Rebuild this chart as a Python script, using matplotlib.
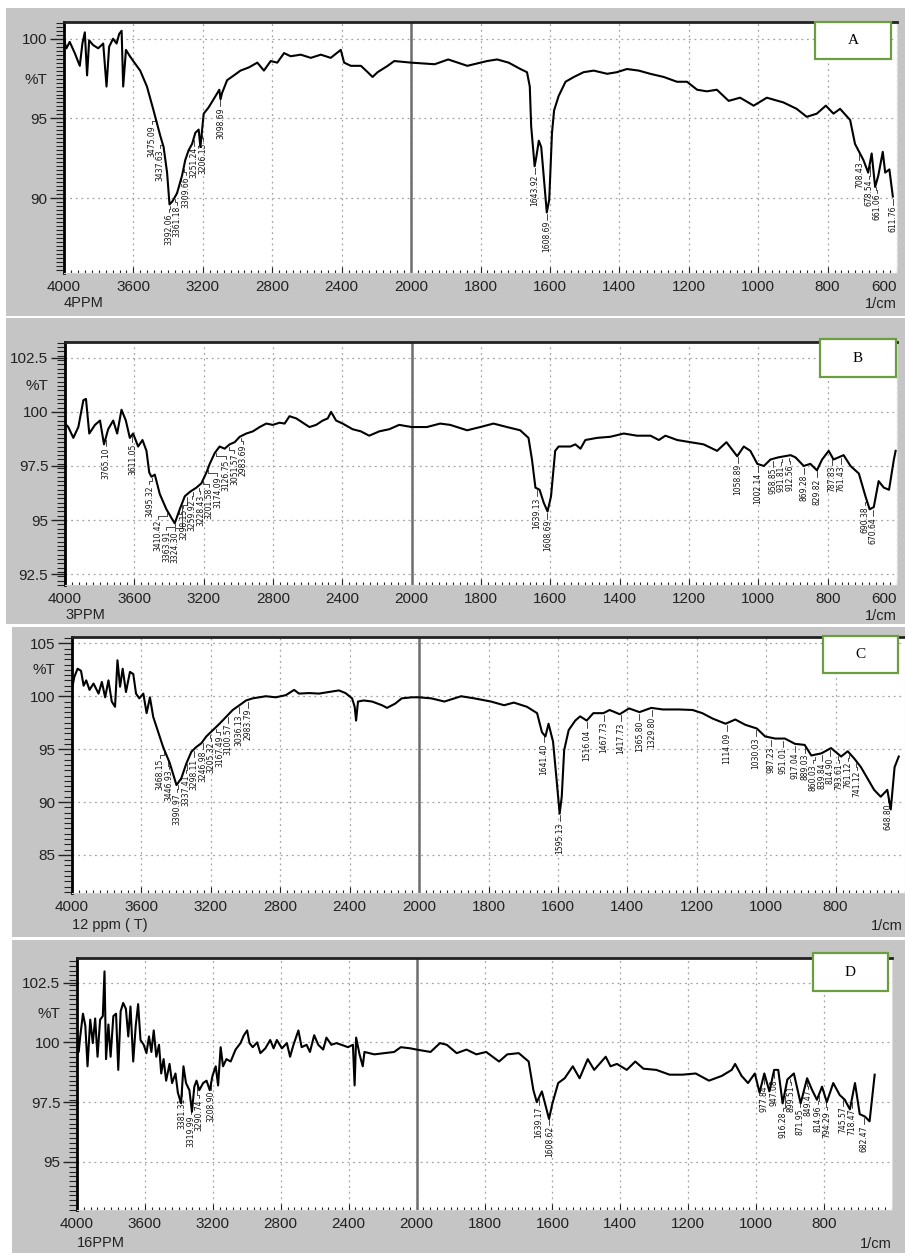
import matplotlib.pyplot as plt
import numpy as np
from matplotlib.patches import Rectangle

W, H = 905, 1253

# ---- spectrum A (4PPM)
a_wn = [4000, 3986, 3967, 3938, 3909, 3894, 3880, 3867, 3855, 3832, 3803, 3774, 3755, 3740, 3717, 3697,
        3682, 3668, 3659, 3643, 3620, 3601, 3561, 3522, 3484, 3445, 3426, 3406, 3392, 3375, 3349, 3320,
        3301, 3282, 3262, 3243, 3224, 3214, 3195, 3166, 3127, 3105, 3098, 3089, 3060, 3021, 2983, 2935,
        2886, 2848, 2809, 2771, 2732, 2694, 2636, 2578, 2520, 2463, 2405, 2386, 2347, 2289, 2250, 2222,
        2193, 2135, 2097, 2000, 1932, 1893, 1838, 1781, 1752, 1719, 1685, 1666, 1658, 1654, 1644, 1639,
        1632, 1625, 1609, 1602, 1594, 1588, 1575, 1555, 1531, 1503, 1474, 1435, 1407, 1378, 1344, 1311,
        1272, 1234, 1205, 1176, 1148, 1119, 1085, 1052, 1013, 975, 927, 889, 860, 831, 805, 783, 764,
        735, 721, 697, 683, 673, 663, 654, 641, 634, 622, 612]
a_t = [99.9, 99.4, 99.8, 99.1, 98.3, 99.7, 100.4, 97.7, 99.9, 99.6, 99.4, 99.7, 97.0, 99.5, 100.0, 99.7,
       100.3, 100.5, 97.0, 99.3, 98.9, 98.6, 98.0, 97.0, 95.5, 93.9, 93.2, 91.6, 89.6, 89.8, 90.3, 91.4,
       92.4, 93.0, 93.4, 94.1, 94.3, 93.2, 95.3, 95.7, 96.4, 96.8, 96.2, 96.6, 97.4, 97.7, 98.0, 98.2,
       98.5, 98.0, 98.6, 98.5, 99.1, 98.9, 99.0, 98.8, 99.0, 98.8, 99.3, 98.5, 98.3, 98.3, 97.9, 97.6,
       97.9, 98.3, 98.6, 98.5, 98.4, 98.7, 98.3, 98.6, 98.7, 98.5, 98.1, 97.9, 97.0, 94.5, 92.0, 92.6,
       93.6, 93.2, 89.1, 89.9, 94.1, 95.5, 96.4, 97.3, 97.6, 97.9, 98.0, 97.8, 97.9, 98.1, 98.0, 97.8,
       97.6, 97.3, 97.3, 96.8, 96.7, 96.8, 96.1, 96.3, 95.8, 96.3, 96.0, 95.6, 95.1, 95.3, 95.8, 95.3, 95.6,
       94.9, 93.4, 92.4, 91.6, 92.8, 90.7, 91.4, 92.9, 91.6, 91.8, 90.1]
a_peaks = [3475.09, 3437.63, 3392.06, 3361.18, 3309.66, 3251.24, 3206.13, 3098.69, 1643.92, 1608.69,
           708.43, 678.54, 661.06, 611.76]

# ---- spectrum B (3PPM)
b_wn = [4000, 3981, 3952, 3923, 3894, 3879, 3860, 3827, 3798, 3775, 3751, 3722, 3699, 3674, 3649, 3626,
        3607, 3578, 3553, 3530, 3514, 3501, 3482, 3453, 3415, 3386, 3367, 3338, 3309, 3280, 3242, 3213,
        3184, 3165, 3136, 3108, 3079, 3050, 3021, 2992, 2954, 2916, 2877, 2839, 2801, 2762, 2733, 2705,
        2666, 2628, 2590, 2551, 2513, 2484, 2465, 2436, 2398, 2341, 2293, 2245, 2187, 2129, 2072, 2000,
        1956, 1918, 1889, 1840, 1802, 1764, 1725, 1687, 1663, 1653, 1643, 1631, 1619, 1608, 1598, 1586,
        1576, 1542, 1528, 1513, 1499, 1465, 1427, 1388, 1350, 1311, 1287, 1268, 1234, 1196, 1158, 1119,
        1092, 1061, 1042, 1023, 1003, 984, 965, 942, 907, 893, 869, 850, 831, 816, 797, 783, 754, 734,
        710, 691, 679, 667, 653, 638, 623, 609, 604]
b_t = [99.46, 99.3, 98.8, 99.3, 100.54, 100.6, 99.0, 99.4, 99.6, 98.5, 99.2, 99.6, 99.0, 100.1, 99.6, 98.8,
       99.0, 98.4, 98.7, 98.2, 97.2, 97.0, 97.1, 96.2, 95.5, 95.1, 94.85, 95.5, 96.1, 96.3, 96.5, 96.7,
       97.2, 97.6, 98.1, 98.4, 98.3, 98.5, 98.6, 98.85, 99.0, 99.1, 99.3, 99.46, 99.4, 99.5, 99.46, 99.8,
       99.7, 99.5, 99.3, 99.4, 99.6, 99.7, 100.0, 99.6, 99.46, 99.2, 99.1, 98.9, 99.1, 99.2, 99.4, 99.3,
       99.3, 99.46, 99.4, 99.15, 99.3, 99.46, 99.3, 99.15, 98.8, 97.8, 96.5, 96.4, 95.8, 95.4, 96.1, 98.2,
       98.4, 98.4, 98.5, 98.3, 98.7, 98.8, 98.85, 99.0, 98.9, 98.9, 98.7, 98.9, 98.7, 98.6, 98.5, 98.2,
       98.6, 97.95, 98.4, 98.2, 97.6, 97.5, 97.8, 97.9, 98.0, 97.9, 97.5, 97.6, 97.3, 97.8, 98.2, 97.8, 98.0, 97.5,
       97.15, 96.1, 95.5, 95.6, 96.8, 96.5, 96.4, 97.8, 98.2]
b_peaks = [3765.10, 3611.05, 3495.32, 3410.42, 3363.91, 3324.30, 3298.15, 3259.92, 3228.43, 3201.58,
           3174.09, 3126.75, 3051.57, 2983.69, 1639.13, 1608.69, 1058.89, 1002.14, 958.85, 931.81,
           912.56, 869.28, 829.82, 787.83, 761.43, 690.38, 670.64]

# ---- spectrum C (12 ppm)
c_wn = [4000, 3987, 3968, 3948, 3933, 3918, 3899, 3876, 3847, 3828, 3809, 3790, 3771, 3752, 3738, 3723,
        3708, 3689, 3666, 3647, 3631, 3612, 3589, 3570, 3551, 3532, 3513, 3475, 3437, 3398, 3389, 3370,
        3341, 3312, 3284, 3255, 3226, 3188, 3150, 3112, 3074, 3035, 2997, 2959, 2921, 2883, 2826, 2768,
        2720, 2692, 2634, 2577, 2520, 2462, 2424, 2386, 2371, 2363, 2352, 2319, 2271, 2214, 2185, 2138,
        2100, 2042, 2000, 1965, 1927, 1879, 1841, 1793, 1755, 1727, 1689, 1660, 1646, 1636, 1627, 1614,
        1603, 1595, 1589, 1582, 1569, 1550, 1536, 1517, 1498, 1469, 1451, 1422, 1395, 1365, 1331, 1298,
        1251, 1212, 1184, 1155, 1117, 1089, 1060, 1027, 1003, 974, 946, 917, 889, 870, 841, 813, 784, 765,
        746, 727, 689, 670, 651, 641, 630, 618]
c_t = [100.7, 101.8, 102.6, 102.4, 101.0, 101.5, 100.6, 101.2, 100.25, 101.35, 99.9, 101.5, 99.5, 99.0, 103.4, 100.9,
       102.6, 100.4, 102.3, 102.1, 100.25, 99.8, 100.25, 98.4, 99.9, 98.05, 97.1, 95.2, 93.7, 91.6, 91.8, 92.25,
       93.65, 94.75, 95.2, 95.55, 96.2, 96.8, 97.4, 98.05, 98.7, 99.15, 99.6, 99.8, 99.9, 100.0, 99.9, 100.1,
       100.6, 100.25, 100.3, 100.25, 100.4, 100.55, 100.3, 99.8, 99.0, 97.7, 99.5, 99.6, 99.5, 99.15, 98.9, 99.3,
       99.8, 99.9, 99.9, 99.8, 99.5, 100.0, 99.8, 99.5, 99.15, 99.4, 99.0, 98.4, 96.6, 96.2, 97.4, 95.7,
       91.8, 88.9, 90.5, 94.9, 96.8, 97.7, 98.1, 97.7, 98.4, 98.4, 98.7, 98.3, 98.85, 98.5, 98.9, 98.75,
       98.75, 98.7, 98.4, 97.9, 97.4, 97.8, 97.3, 96.95, 96.2, 96.0, 96.0, 95.5, 95.4, 94.4, 94.6, 95.1, 94.3, 94.8,
       94.1, 93.3, 91.15, 90.5, 91.15, 89.3, 93.3, 94.3]
c_peaks = [3468.15, 3446.93, 3390.97, 3337.41, 3298.11, 3246.98, 3205.32, 3167.49, 3100.57, 3036.13,
           2983.79, 1641.40, 1595.13, 1516.04, 1467.73, 1417.73, 1365.80, 1329.80, 1114.09, 1030.03,
           987.23, 951.01, 917.04, 889.03, 860.03, 839.84, 814.90, 793.61, 761.12, 741.12, 648.80]

# ---- spectrum D (16PPM)
d_wn = [4000, 3990, 3981, 3965, 3951, 3938, 3922, 3907, 3893, 3879, 3864, 3848, 3838, 3829, 3815, 3802,
        3786, 3770, 3757, 3743, 3728, 3712, 3698, 3685, 3669, 3654, 3640, 3626, 3607, 3591, 3576, 3562,
        3548, 3533, 3517, 3504, 3490, 3475, 3455, 3440, 3420, 3406, 3387, 3373, 3358, 3338, 3323, 3309,
        3296, 3280, 3257, 3237, 3218, 3202, 3183, 3169, 3154, 3140, 3120, 3095, 3066, 3037, 3017, 2998,
        2984, 2965, 2939, 2920, 2891, 2862, 2842, 2823, 2793, 2764, 2745, 2725, 2696, 2677, 2648, 2628,
        2603, 2579, 2550, 2531, 2502, 2472, 2443, 2404, 2375, 2365, 2356, 2336, 2317, 2307, 2249, 2190,
        2132, 2093, 2035, 2000, 1959, 1931, 1911, 1882, 1853, 1824, 1795, 1757, 1733, 1699, 1670, 1656,
        1646, 1631, 1622, 1610, 1600, 1583, 1564, 1540, 1520, 1496, 1477, 1443, 1429, 1410, 1381, 1356,
        1332, 1294, 1255, 1217, 1178, 1139, 1101, 1072, 1062, 1043, 1024, 1004, 990, 976, 961, 947, 935,
        922, 908, 889, 869, 850, 835, 821, 806, 792, 773, 754, 739, 724, 709, 695, 680, 666, 656, 651]
d_t = [100.5, 99.6, 100.25, 101.2, 100.7, 99.0, 100.95, 99.97, 101.0, 99.4, 100.95, 101.1, 102.97, 99.3, 100.75, 99.4,
       101.1, 101.2, 98.85, 101.3, 101.65, 101.4, 100.25, 101.5, 99.2, 100.7, 101.6, 100.1, 99.9, 99.55, 100.25, 99.6,
       100.5, 99.4, 99.9, 98.7, 99.3, 98.4, 99.1, 98.3, 98.7, 97.9, 97.45, 99.0, 98.3, 98.0, 97.1, 98.15,
       98.4, 98.0, 98.3, 98.4, 98.0, 98.6, 99.0, 98.2, 99.8, 99.0, 99.3, 99.2, 99.7, 99.97, 100.3, 100.5,
       99.97, 99.8, 100.0, 99.55, 99.75, 100.1, 99.75, 100.1, 99.75, 99.97, 99.4, 99.9, 100.5, 99.8, 99.9, 99.6,
       100.3, 99.9, 99.7, 100.2, 99.9, 99.97, 99.9, 99.8, 99.9, 98.2, 100.2, 99.5, 99.0, 99.6, 99.5, 99.55,
       99.6, 99.8, 99.75, 99.7, 99.6, 99.97, 99.9, 99.55, 99.7, 99.5, 99.6, 99.2, 99.5, 99.55, 99.2, 98.0,
       97.5, 97.95, 97.45, 96.8, 97.45, 98.3, 98.5, 99.0, 98.5, 99.3, 98.85, 99.4, 99.0, 99.1, 98.85, 99.2,
       98.9, 98.85, 98.65, 98.65, 98.7, 98.4, 98.6, 98.85, 99.1, 98.6, 98.3, 98.7, 97.9, 98.7, 97.95, 98.85, 98.85,
       97.45, 98.45, 98.7, 97.45, 98.5, 98.0, 97.6, 98.15, 97.5, 98.3, 97.8, 97.6, 97.2, 98.3, 97.0, 96.9, 96.7, 98.0, 98.65]
d_peaks = [3381.31, 3319.99, 3290.74, 3208.90, 1639.17, 1608.62, 977.84, 947.08, 916.28, 899.51,
           871.95, 849.47, 814.96, 794.29, 745.57, 718.47, 682.47]

x_major = [4000, 3600, 3200, 2800, 2400, 2000, 1800, 1600, 1400, 1200, 1000, 800, 600]
letters = ['A', 'B', 'C', 'D']
names = ['4PPM', '3PPM', '12 ppm ( T)', '16PPM']

GRAY = '#c5c5c5'
GREEN = '#6a9e3f'
TICKFONT = 'Liberation Sans'


# Shimadzu style axis: 4000-2000 at half the scale of 2000-600
def fwd(w):
    w = np.asarray(w, dtype=float)
    return np.where(w >= 2000, (w - 2000) / 400.0, (w - 2000) / 200.0)


def inv(s):
    s = np.asarray(s, dtype=float)
    return np.where(s >= 0, 2000 + s * 400.0, 2000 + s * 200.0)


def frac(x0, y0, x1, y1):
    return [x0 / W, 1 - y1 / H, (x1 - x0) / W, (y1 - y0) / H]


def spread(xs, gap):
    xs = np.asarray(xs, dtype=float)
    order = np.argsort(xs)
    xsort = xs[order]
    clusters = [[i] for i in range(len(xsort))]

    def place(cl):
        c = xsort[cl].mean()
        return c + (np.arange(len(cl)) - (len(cl) - 1) / 2) * gap

    merged = True
    while merged:
        merged = False
        for k in range(len(clusters) - 1):
            if place(clusters[k + 1])[0] - place(clusters[k])[-1] < gap:
                clusters[k] = clusters[k] + clusters.pop(k + 1)
                merged = True
                break
    out = np.empty(len(xsort))
    for cl in clusters:
        out[cl] = place(cl)
    res = np.empty(len(xs))
    res[order] = out
    return res


fig = plt.figure(figsize=(W / 100, H / 100), dpi=100)
fig.patch.set_facecolor('white')


def panel(box, bg, wn, t, ylim, yticks, ystep, xright, peaks, pct_y, letter, lbox, name, name_y):
    fig.add_artist(Rectangle((bg[0] / W, 1 - bg[3] / H), (bg[2] - bg[0]) / W, (bg[3] - bg[1]) / H,
                             transform=fig.transFigure, facecolor=GRAY, edgecolor='none', zorder=-10))
    ax = fig.add_axes(frac(*box))
    ax.set_facecolor('white')
    ax.set_xscale('function', functions=(fwd, inv))
    ax.set_xlim(4000, xright)
    ax.set_ylim(*ylim)
    wn = np.asarray(wn, dtype=float)
    t = np.asarray(t, dtype=float)
    ax.plot(wn, t, color='black', lw=1.5, zorder=4)
    ax.axvline(2000, color='#6e6e6e', lw=1.8, zorder=2)

    xt = [v for v in x_major if v >= xright]
    ax.set_xticks(xt)
    ax.set_xticklabels([str(v) for v in xt])
    ax.set_xticks(np.concatenate([np.arange(4000, 2000, -40), np.arange(2000, 599, -20)]), minor=True)
    ax.set_yticks(yticks)
    ax.set_yticklabels([f'{v:g}' for v in yticks])
    ax.set_yticks(np.arange(np.ceil(ylim[0] / ystep) * ystep, ylim[1], ystep), minor=True)
    ax.grid(True, which='major', color='#a4a4a4', linestyle=(0, (1.5, 3)), lw=0.9, zorder=1)
    ax.tick_params(axis='x', which='both', direction='in', top=False, colors='#222222',
                   labelsize=11, pad=5)
    ax.tick_params(axis='x', which='major', length=4)
    ax.tick_params(axis='x', which='minor', length=2.5, width=0.8)
    ax.tick_params(axis='y', which='both', direction='out', right=False, colors='#222222',
                   labelsize=11, pad=2)
    ax.tick_params(axis='y', which='major', length=10, width=1)
    ax.tick_params(axis='y', which='minor', length=6, width=0.8)
    for lab in ax.get_xticklabels() + ax.get_yticklabels():
        lab.set_fontfamily(TICKFONT)
    # the last tick label sits at the image edge: keep it inside
    xlabs = ax.get_xticklabels()
    if xt[-1] == 600:
        xlabs[-1].set_horizontalalignment('right')
    ax.spines['left'].set_linewidth(2)
    ax.spines['top'].set_linewidth(2)
    ax.spines['top'].set_color('#222222')
    ax.spines['bottom'].set_color('#d0d0d0')
    ax.spines['right'].set_color('#dcdcdc')

    ax.annotate('%T', xy=(0, pct_y), xycoords=('axes fraction', 'data'), xytext=(-12, 0),
                textcoords='offset points', ha='right', va='center', fontsize=11,
                family=TICKFONT, color='#222222', annotation_clip=False)

    # peak labels with leader lines
    tr = ax.transData
    back = tr.inverted()
    pk = np.asarray(peaks, dtype=float)
    tp = np.interp(pk, wn[::-1], t[::-1])
    disp = tr.transform(np.column_stack([pk, tp]))
    lx = spread(disp[:, 0], 8.5)
    for i, p in enumerate(pk):
        wl = back.transform((lx[i], disp[i, 1]))[0]
        tl = np.interp(wl, wn[::-1], t[::-1])
        ycurve = tr.transform((wl, tl))[1]
        ytop = min(disp[i, 1], ycurve) - 8
        elbow = ytop + 3
        pts = back.transform([(disp[i, 0], disp[i, 1] - 2), (disp[i, 0], elbow),
                              (lx[i], elbow), (lx[i], ytop)])
        ax.plot(pts[:, 0], pts[:, 1], color='black', lw=0.5, zorder=3)
        yt = back.transform((lx[i], ytop - 1))[1]
        ax.text(wl, yt, f'{p:.2f}', rotation=90, ha='center', va='top', fontsize=5.5,
                family=['Liberation Sans Narrow', 'DejaVu Sans'], color='#111111',
                zorder=3, clip_on=True)

    fig.add_artist(Rectangle((lbox[0] / W, 1 - lbox[3] / H), (lbox[2] - lbox[0]) / W,
                             (lbox[3] - lbox[1]) / H, transform=fig.transFigure,
                             facecolor='white', edgecolor=GREEN, lw=1.6, zorder=10))
    fig.text((lbox[0] + lbox[2]) / 2 / W, 1 - (lbox[1] + lbox[3]) / 2 / H, letter,
             ha='center', va='center', fontsize=11, family='Liberation Serif', zorder=11)
    fig.text(box[0] / W, 1 - name_y / H, name, ha='left', va='center', fontsize=10.5,
             family=TICKFONT, color='#222222')
    fig.text(min(box[2], 903) / W, 1 - (name_y + 1) / H, '1/cm', ha='right', va='center',
             fontsize=10.5, family=TICKFONT, color='#222222')
    return ax


panel((64, 22, 897, 273), (6, 8, 905, 316), a_wn, a_t, (85.3, 101.05), [90, 95, 100], 0.25, 600,
      a_peaks, 97.4, letters[0], (815, 22, 891, 59), names[0], 303)
panel((65, 342, 897, 585), (6, 318, 905, 624), b_wn, b_t, (92.0, 103.23), [92.5, 95, 97.5, 100, 102.5],
      0.2, 600, b_peaks, 101.2, letters[1], (820, 339, 896, 377), names[1], 615)
panel((72, 637, 905, 893), (12, 627, 905, 937), c_wn, c_t, (81.4, 105.6), [85, 90, 95, 100, 105],
      0.5, 619, c_peaks, 102.45, letters[2], (823, 636, 898, 673), names[2], 925)
panel((77, 958, 892, 1210), (12, 940, 905, 1253), d_wn, d_t, (92.99, 103.53), [95, 97.5, 100, 102.5],
      0.2, 626, d_peaks, 101.2, letters[3], (813, 953, 888, 991), names[3], 1243)

fig.savefig('out.png', dpi=100)
